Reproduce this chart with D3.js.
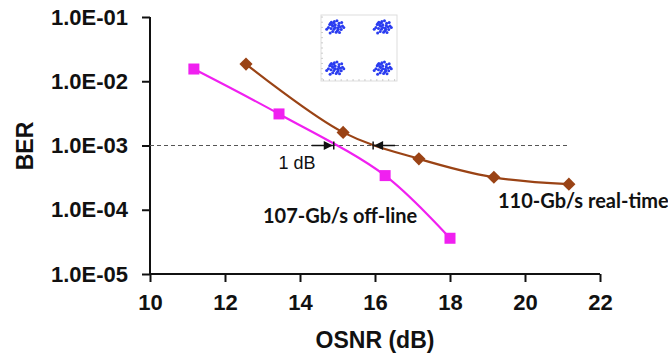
<!DOCTYPE html>
<html><head><meta charset="utf-8">
<script src="https://cdn.jsdelivr.net/npm/d3@7"></script>
<style>body{margin:0;background:#fff}svg{display:block}</style>
</head><body>
<svg id="c" width="668" height="358"></svg>
<script>
// Data
const offlineOsnr = [11.17, 13.44, 16.27, 18.0];
const offlineBer  = [1.55e-2, 3.1e-3, 3.4e-4, 3.6e-5];
const realOsnr = [12.56, 15.15, 17.17, 19.17, 21.17];
const realBer  = [1.85e-2, 1.6e-3, 6.2e-4, 3.2e-4, 2.5e-4];
const xTicks = [10, 12, 14, 16, 18, 20, 22];
const yTicks = [1e-1, 1e-2, 1e-3, 1e-4, 1e-5];
const yTickLabels = ["1.0E-01", "1.0E-02", "1.0E-03", "1.0E-04", "1.0E-05"];
const refBer = 1e-3;
const offlineAt = 14.9, realAt = 15.95;
// inset constellation (I/Q)
const qpskCenters = [[-1, 1], [1, 1], [-1, -1], [1, -1]];
const clusterOffsets = [[0,0],[0.08,0.05],[-0.07,0.06],[0.05,-0.09],[-0.1,-0.03],[0.12,0.01],[-0.04,0.12],[0.02,-0.13],[-0.13,0.08],[0.09,0.11],[-0.06,-0.11],[0.14,-0.06],[-0.16,0.0],[0.0,0.07],[0.06,-0.02],[-0.03,-0.05],[0.17,0.04],[-0.09,0.14],[0.1,-0.14],[-0.02,0.16],[0.2,0.0],[-0.2,-0.05],[0.04,0.18],[-0.12,-0.15],[0.15,0.13],[-0.05,0.03],[0.07,-0.06],[-0.11,0.11]];

const svg = d3.select("#c");
const x = d3.scaleLinear().domain([10, 22]).range([150, 600]);
const y = d3.scaleLog().domain([1e-5, 1e-1]).range([274, 17]);

// axes
const xAxis = svg.append("g").attr("transform", "translate(0,274)")
  .call(d3.axisBottom(x).tickValues(xTicks).tickSize(8).tickPadding(12).tickFormat(d3.format("d")));
const yAxis = svg.append("g").attr("transform", "translate(150,0)")
  .call(d3.axisLeft(y).tickValues(yTicks).tickSize(8).tickPadding(14).tickFormat((d,i)=>yTickLabels[i]));
[xAxis, yAxis].forEach(g => {
  g.select(".domain").attr("stroke", "#111").attr("stroke-width", 2);
  g.selectAll(".tick line").attr("stroke", "#111").attr("stroke-width", 2);
  g.selectAll("text").attr("fill", "#111").style("font-family", "Liberation Sans, Arial, sans-serif")
   .style("font-weight", "bold").style("font-size", "22px");
});
xAxis.select(".domain").attr("d", "M150,0H600");
yAxis.select(".domain").attr("d", "M0,17V274");

// axis titles
svg.append("text").attr("x", 375).attr("y", 348).attr("text-anchor", "middle")
  .style("font-family", "Liberation Sans, Arial, sans-serif").style("font-weight", "bold").style("font-size", "23px")
  .attr("fill", "#111").text("OSNR (dB)");
svg.append("text").attr("transform", "translate(33,146) rotate(-90)").attr("text-anchor", "middle")
  .style("font-family", "Liberation Sans, Arial, sans-serif").style("font-weight", "bold").style("font-size", "23px")
  .attr("fill", "#111").text("BER");

// reference dashed line
svg.append("line").attr("x1", x(10)).attr("x2", 567).attr("y1", y(refBer)).attr("y2", y(refBer))
  .attr("stroke", "#555").attr("stroke-width", 1).attr("stroke-dasharray", "4,3");

// lines
const line = d3.line().x(d => x(d[0])).y(d => y(d[1])).curve(d3.curveCatmullRom.alpha(0.5));
const offline = offlineOsnr.map((v, i) => [v, offlineBer[i]]);
const real = realOsnr.map((v, i) => [v, realBer[i]]);
svg.append("path").datum(offline).attr("d", line).attr("fill", "none").attr("stroke", "#f020f0").attr("stroke-width", 2.2);
svg.append("path").datum(real).attr("d", line).attr("fill", "none").attr("stroke", "#9a4315").attr("stroke-width", 2.2);

// markers
svg.selectAll(".sq").data(offline).enter().append("rect")
  .attr("x", d => x(d[0]) - 5.5).attr("y", d => y(d[1]) - 5.5).attr("width", 11).attr("height", 11)
  .attr("fill", "#f020f0");
svg.selectAll(".dm").data(real).enter().append("path")
  .attr("d", d3.symbol().type(d3.symbolDiamond2).size(110))
  .attr("transform", d => `translate(${x(d[0])},${y(d[1])})`)
  .attr("fill", "#9a4315");

// 1 dB arrows
const yr = y(refBer);
const defs = svg.append("defs");
defs.append("marker").attr("id", "ah").attr("viewBox", "0 0 10 10").attr("refX", 10).attr("refY", 5)
  .attr("markerWidth", 7).attr("markerHeight", 6).attr("orient", "auto-start-reverse")
  .append("path").attr("d", "M0,0L10,5L0,10z").attr("fill", "#111");
svg.append("line").attr("x1", x(offlineAt) - 22).attr("x2", x(offlineAt) - 1).attr("y1", yr).attr("y2", yr)
  .attr("stroke", "#111").attr("stroke-width", 1.5).attr("marker-end", "url(#ah)");
svg.append("line").attr("x1", x(offlineAt)).attr("x2", x(offlineAt)).attr("y1", yr - 4).attr("y2", yr + 4)
  .attr("stroke", "#111").attr("stroke-width", 1.5);
svg.append("line").attr("x1", x(realAt) + 22).attr("x2", x(realAt) + 1).attr("y1", yr).attr("y2", yr)
  .attr("stroke", "#111").attr("stroke-width", 1.5).attr("marker-end", "url(#ah)");
svg.append("line").attr("x1", x(realAt)).attr("x2", x(realAt)).attr("y1", yr - 4).attr("y2", yr + 4)
  .attr("stroke", "#111").attr("stroke-width", 1.5);
svg.append("text").attr("x", 297).attr("y", 169).attr("text-anchor", "middle")
  .style("font-family", "Liberation Sans, Arial, sans-serif").style("font-size", "18px").attr("fill", "#111").text("1 dB");

// series labels
svg.append("text").attr("x", 263).attr("y", 223)
  .style("font-family", "Lato, sans-serif").style("font-weight", "bold").style("font-size", "20px").attr("fill", "#111")
  .text("107-Gb/s off-line");
svg.append("text").attr("x", 498).attr("y", 208)
  .style("font-family", "Lato, sans-serif").style("font-weight", "bold").style("font-size", "20px").attr("fill", "#111")
  .text("110-Gb/s real-time");

// inset constellation
const ix = d3.scaleLinear().domain([-1.6, 1.6]).range([321, 397]);
const iy = d3.scaleLinear().domain([-1.6, 1.6]).range([81, 15]);
const inset = svg.append("g");
inset.append("rect").attr("x", 321).attr("y", 15).attr("width", 76).attr("height", 66)
  .attr("fill", "#fff").attr("stroke", "#ddd").attr("stroke-width", 1);
d3.range(-1.5, 1.6, 0.25).forEach(t => {
  inset.append("line").attr("x1", 321).attr("x2", 323).attr("y1", iy(t)).attr("y2", iy(t)).attr("stroke", "#ccc");
  inset.append("line").attr("y1", 81).attr("y2", 79).attr("x1", ix(t)).attr("x2", ix(t)).attr("stroke", "#ccc");
});
qpskCenters.forEach(c => {
  inset.selectAll(null).data(clusterOffsets).enter().append("circle")
    .attr("cx", d => ix(c[0] + d[0] * 1.8)).attr("cy", d => iy(c[1] + d[1] * 1.8)).attr("r", 1.5)
    .attr("fill", "#2a3cf0");
});
</script>
</body></html>
